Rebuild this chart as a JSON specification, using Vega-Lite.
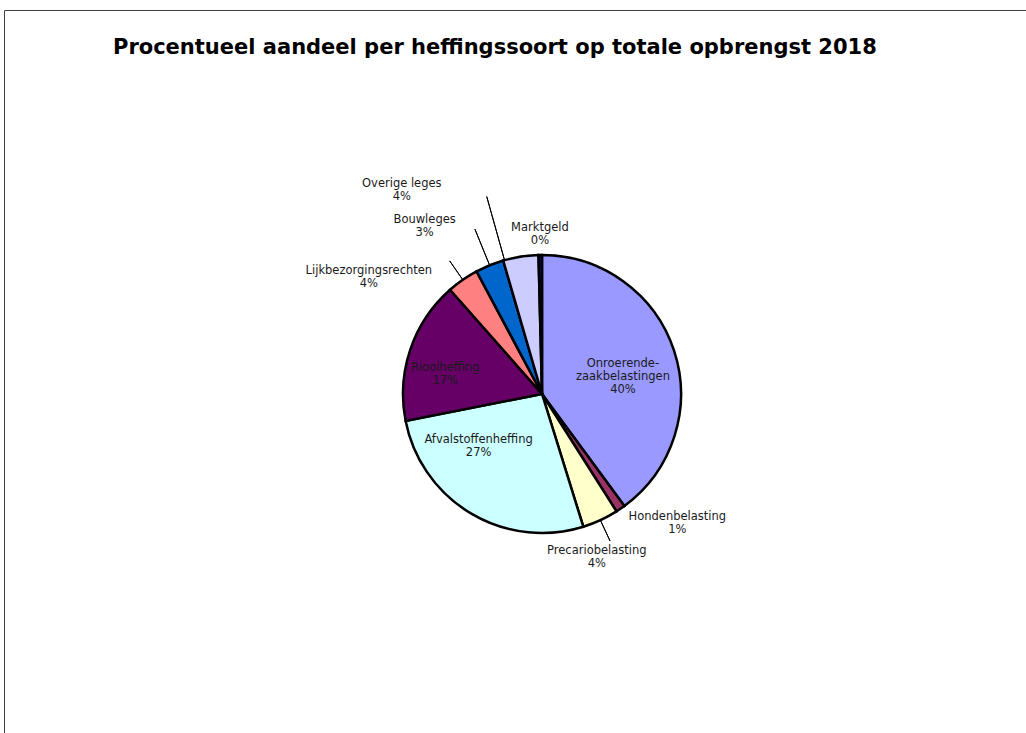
{
  "$schema": "https://vega.github.io/schema/vega-lite/v6.json",
  "width": 1076,
  "height": 768,
  "autosize": "none",
  "padding": {"left": 4, "top": 10, "right": -54, "bottom": -45},
  "background": "white",
  "view": {"stroke": "#404040", "strokeWidth": 1},
  "title": {
    "text": "Procentueel aandeel per heffingssoort op totale opbrengst 2018",
    "anchor": "start", "frame": "group", "dx": 109, "offset": -65, "baseline": "alphabetic",
    "font": "DejaVu Sans", "fontSize": 21, "fontWeight": "bold", "color": "black"
  },
  "data": {"values": [
    {"heffing": "Onroerende-zaakbelastingen", "label": "Onroerende-|zaakbelastingen|40%", "aandeel": 39.9, "volgorde": 1},
    {"heffing": "Hondenbelasting", "label": "Hondenbelasting|1%", "aandeel": 1.1, "volgorde": 2},
    {"heffing": "Precariobelasting", "label": "Precariobelasting|4%", "aandeel": 4.2, "volgorde": 3},
    {"heffing": "Afvalstoffenheffing", "label": "Afvalstoffenheffing|27%", "aandeel": 26.7, "volgorde": 4},
    {"heffing": "Rioolheffing", "label": "Rioolheffing|17%", "aandeel": 16.6, "volgorde": 5},
    {"heffing": "Lijkbezorgingsrechten", "label": "Lijkbezorgingsrechten|4%", "aandeel": 3.7, "volgorde": 6},
    {"heffing": "Bouwleges", "label": "Bouwleges|3%", "aandeel": 3.3, "volgorde": 7},
    {"heffing": "Overige leges", "label": "Overige leges|4%", "aandeel": 4.1, "volgorde": 8},
    {"heffing": "Marktgeld", "label": "Marktgeld|0%", "aandeel": 0.4, "volgorde": 9}
  ]},
  "encoding": {
    "theta": {"field": "aandeel", "type": "quantitative", "stack": true},
    "order": {"field": "volgorde", "type": "quantitative"}
  },
  "layer": [
    {
      "mark": {"type": "arc", "radius": 139, "stroke": "black", "strokeWidth": 2.5},
      "encoding": {
        "color": {
          "field": "heffing", "type": "nominal", "legend": null,
          "scale": {
            "domain": ["Onroerende-zaakbelastingen", "Hondenbelasting", "Precariobelasting", "Afvalstoffenheffing", "Rioolheffing", "Lijkbezorgingsrechten", "Bouwleges", "Overige leges", "Marktgeld"],
            "range": ["#9999FF", "#993366", "#FFFFCC", "#CCFFFF", "#660066", "#FF8080", "#0066CC", "#CCCCFF", "#000080"]
          }
        }
      }
    },
    {"mark": {"type": "arc", "radius": 162, "radius2": 140, "padAngle": 1, "fill": "transparent", "stroke": "black", "strokeWidth": 1},
     "encoding": {"strokeOpacity": {"condition": {"test": "datum.heffing === 'Precariobelasting' || datum.heffing === 'Lijkbezorgingsrechten'", "value": 1}, "value": 0}}},
    {"mark": {"type": "arc", "radius": 178, "radius2": 140, "padAngle": 1, "fill": "transparent", "stroke": "black", "strokeWidth": 1},
     "encoding": {"strokeOpacity": {"condition": {"test": "datum.heffing === 'Bouwleges'", "value": 1}, "value": 0}}},
    {"mark": {"type": "arc", "radius": 205, "radius2": 140, "padAngle": 1, "thetaOffset": -0.119, "theta2Offset": -0.119, "fill": "transparent", "stroke": "black", "strokeWidth": 1},
     "encoding": {"strokeOpacity": {"condition": {"test": "datum.heffing === 'Overige leges'", "value": 1}, "value": 0}}},
    {"mark": {"type": "text", "radius": 82, "dx": 3, "dy": -4, "font": "DejaVu Sans", "fontSize": 11.5, "lineHeight": 13, "lineBreak": "|", "align": "center", "baseline": "middle", "color": "#1a1a1a"},
     "encoding": {"text": {"condition": {"test": "datum.heffing === 'Onroerende-zaakbelastingen'", "field": "label"}, "value": ""}}},
    {"mark": {"type": "text", "radius": 183, "dx": 32, "dy": -28.5, "font": "DejaVu Sans", "fontSize": 11.5, "lineHeight": 13, "lineBreak": "|", "align": "center", "baseline": "middle", "color": "#1a1a1a"},
     "encoding": {"text": {"condition": {"test": "datum.heffing === 'Hondenbelasting'", "field": "label"}, "value": ""}}},
    {"mark": {"type": "text", "radius": 171, "dx": -17, "dy": 1.5, "font": "DejaVu Sans", "fontSize": 11.5, "lineHeight": 13, "lineBreak": "|", "align": "center", "baseline": "middle", "color": "#1a1a1a"},
     "encoding": {"text": {"condition": {"test": "datum.heffing === 'Precariobelasting'", "field": "label"}, "value": ""}}},
    {"mark": {"type": "text", "radius": 77, "dx": -24, "dy": -20.5, "font": "DejaVu Sans", "fontSize": 11.5, "lineHeight": 13, "lineBreak": "|", "align": "center", "baseline": "middle", "color": "#1a1a1a"},
     "encoding": {"text": {"condition": {"test": "datum.heffing === 'Afvalstoffenheffing'", "field": "label"}, "value": ""}}},
    {"mark": {"type": "text", "radius": 98, "dx": -4, "dy": 5.5, "font": "DejaVu Sans", "fontSize": 11.5, "lineHeight": 13, "lineBreak": "|", "align": "center", "baseline": "middle", "color": "#1a1a1a"},
     "encoding": {"text": {"condition": {"test": "datum.heffing === 'Rioolheffing'", "field": "label"}, "value": ""}}},
    {"mark": {"type": "text", "radius": 195, "dx": -62, "dy": 37.5, "font": "DejaVu Sans", "fontSize": 11.5, "lineHeight": 13, "lineBreak": "|", "align": "center", "baseline": "middle", "color": "#1a1a1a"},
     "encoding": {"text": {"condition": {"test": "datum.heffing === 'Lijkbezorgingsrechten'", "field": "label"}, "value": ""}}},
    {"mark": {"type": "text", "radius": 200, "dx": -42, "dy": 11.5, "font": "DejaVu Sans", "fontSize": 11.5, "lineHeight": 13, "lineBreak": "|", "align": "center", "baseline": "middle", "color": "#1a1a1a"},
     "encoding": {"text": {"condition": {"test": "datum.heffing === 'Bouwleges'", "field": "label"}, "value": ""}}},
    {"mark": {"type": "text", "radius": 223, "dx": -106, "dy": 10.5, "font": "DejaVu Sans", "fontSize": 11.5, "lineHeight": 13, "lineBreak": "|", "align": "center", "baseline": "middle", "color": "#1a1a1a"},
     "encoding": {"text": {"condition": {"test": "datum.heffing === 'Overige leges'", "field": "label"}, "value": ""}}},
    {"mark": {"type": "text", "radius": 160, "dx": 0, "dy": -6.5, "font": "DejaVu Sans", "fontSize": 11.5, "lineHeight": 13, "lineBreak": "|", "align": "center", "baseline": "middle", "color": "#1a1a1a"},
     "encoding": {"text": {"condition": {"test": "datum.heffing === 'Marktgeld'", "field": "label"}, "value": ""}}}
  ]
}
